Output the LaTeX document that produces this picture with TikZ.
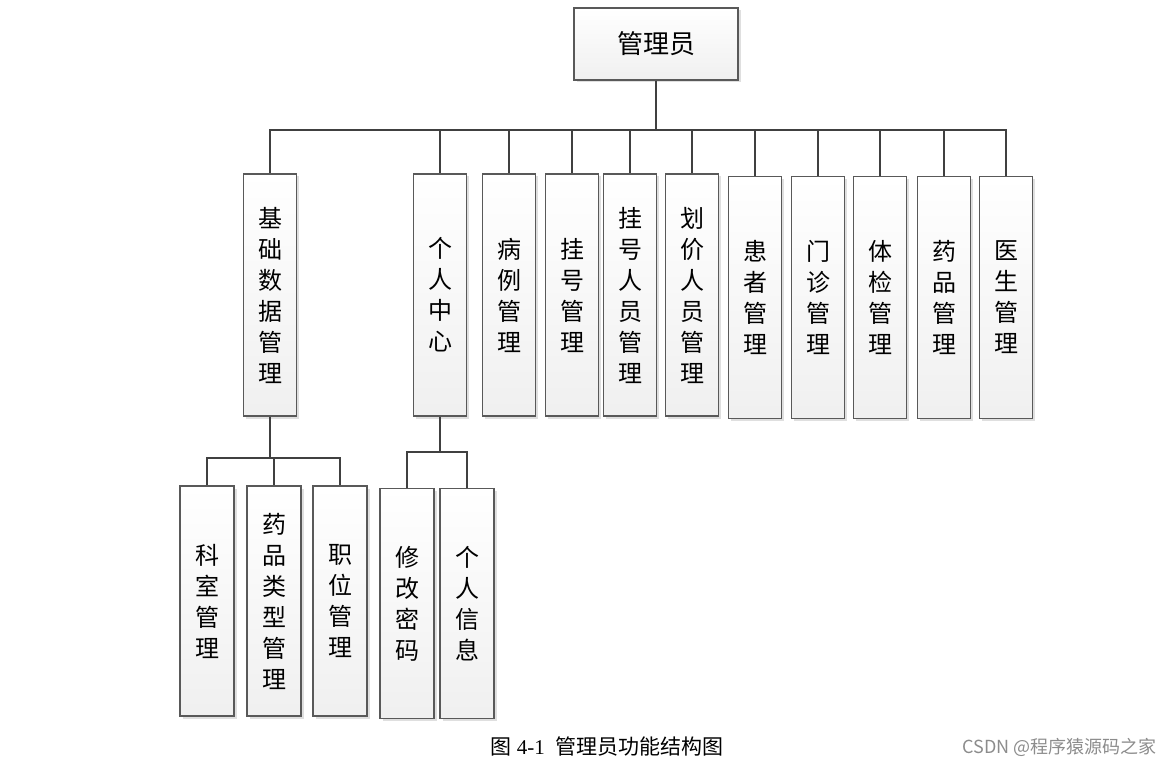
\documentclass[tikz,border=0pt]{standalone}
\usepackage{fontspec}
\setmainfont{Liberation Serif}
\newfontfamily\cjk{Noto Sans CJK SC}
\usetikzlibrary{shadows}

\begin{document}
\begin{tikzpicture}[x=1pt,y=-1pt,
                    line width=2pt,draw=black!75,
                    main node/.style={draw=black!65,line width=1.1pt,
                      top color=white,bottom color=black!6,
                      drop shadow={shadow xshift=2.5pt,shadow yshift=-2.5pt,fill=black!25,opacity=.5},
                      align=center,inner sep=0pt,
                      font=\cjk\fontsize{24}{31}\selectfont},
                    tall node/.style={main node,minimum width=53pt,minimum height=242pt},
                    low node/.style={main node,minimum width=54pt,minimum height=230pt},
                    hv/.style={to path={-| (\tikztotarget)}}]
  \useasboundingbox (0,0) rectangle (1174,767);

  \node[main node,minimum width=164pt,minimum height=72pt,
        font=\cjk\fontsize{26}{30}\selectfont] (1) at (656,44) {管理员};

  \node[tall node] (2) at (270,295) {基\\础\\数\\据\\管\\理};
  \node[tall node] (3) at (440,295) {个\\人\\中\\心};
  \node[tall node] (4) at (509,295) {病\\例\\管\\理};
  \node[tall node] (5) at (572,295) {挂\\号\\管\\理};
  \node[tall node] (6) at (630,295) {挂\\号\\人\\员\\管\\理};
  \node[tall node] (7) at (692,295) {划\\价\\人\\员\\管\\理};
  \node[tall node] (8) at (755,297.5) {患\\者\\管\\理};
  \node[tall node] (9) at (818,297.5) {门\\诊\\管\\理};
  \node[tall node] (10) at (880,297.5) {体\\检\\管\\理};
  \node[tall node] (11) at (944,297.5) {药\\品\\管\\理};
  \node[tall node] (12) at (1006,297.5) {医\\生\\管\\理};

  \node[low node] (13) at (207,601) {科\\室\\管\\理};
  \node[low node] (14) at (274,601) {药\\品\\类\\型\\管\\理};
  \node[low node] (15) at (340,601) {职\\位\\管\\理};
  \node[low node] (16) at (407,603.5) {修\\改\\密\\码};
  \node[low node] (17) at (467,603.5) {个\\人\\信\\息};

  \coordinate (b1) at (656,130);
  \coordinate (b2) at (270,458);
  \coordinate (b3) at (440,452);

  \path[draw]
    (1) edge (b1)
    (b1) edge[hv] (2) edge[hv] (3) edge[hv] (4) edge[hv] (5)
         edge[hv] (6) edge[hv] (7) edge[hv] (8) edge[hv] (9)
         edge[hv] (10) edge[hv] (11) edge[hv] (12)
    (2) edge (b2)
    (b2) edge[hv] (13) edge[hv] (14) edge[hv] (15)
    (3) edge (b3)
    (b3) edge[hv] (16) edge[hv] (17)
;

  \node[font=\fontsize{21}{24}\selectfont] (cap) at (607,747)
    {{\cjk 图} 4-1\ \ {\cjk 管理员功能结构图}};
  \node[font=\cjk\fontsize{18}{20}\selectfont,text=black!45,anchor=east] (mark) at (1161,747)
    {CSDN @程序猿源码之家};
\end{tikzpicture}
\end{document}
